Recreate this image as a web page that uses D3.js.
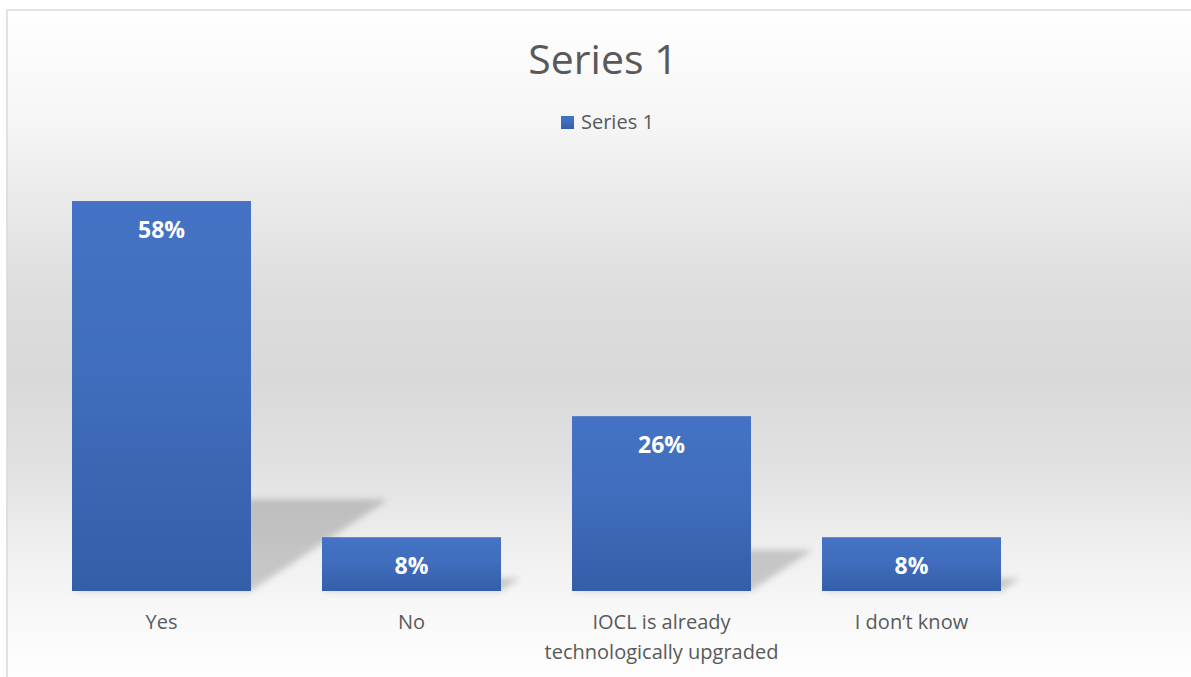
<!DOCTYPE html>
<html>
<head>
<meta charset="utf-8">
<script src="https://cdn.jsdelivr.net/npm/d3@7"></script>
<style>
  html, body { margin: 0; padding: 0; background: #ffffff; }
  svg { display: block; }
  text { font-family: "Open Sans", "Noto Sans", sans-serif; }
</style>
</head>
<body>
<svg id="chart" width="1191" height="677"></svg>
<script>
// Survey answers and their shares
const categories = ["Yes", "No", "IOCL is already technologically upgraded", "I don’t know"];
const seriesName = "Series 1";
const values = [0.58, 0.08, 0.26, 0.08];

const W = 1191, H = 677;
const svg = d3.select("#chart");
const defs = svg.append("defs");

// Chart area background: soft vertical grey band
const bg = defs.append("linearGradient")
  .attr("id", "bgGrad")
  .attr("gradientUnits", "userSpaceOnUse")
  .attr("x1", 0).attr("y1", 10).attr("x2", 0).attr("y2", 690);
[[0, "#ffffff"], [0.16, "#f6f6f6"], [0.28, "#eaeaea"], [0.42, "#dddddd"],
 [0.54, "#d9d9d9"], [0.67, "#e1e1e1"], [0.8, "#f0f0f0"], [0.9, "#f9f9f9"], [1, "#ffffff"]]
  .forEach(([o, c]) => bg.append("stop").attr("offset", o).attr("stop-color", c));

// Bar fill: lighter blue at the top, deeper at the base
const barGrad = defs.append("linearGradient")
  .attr("id", "barGrad").attr("x1", 0).attr("y1", 0).attr("x2", 0).attr("y2", 1);
[[0, "#4473c5"], [0.45, "#406dbd"], [1, "#345ea8"]]
  .forEach(([o, c]) => barGrad.append("stop").attr("offset", o).attr("stop-color", c));

// Soft blur for the perspective shadows
defs.append("filter").attr("id", "shadowBlur")
  .attr("x", "-20%").attr("y", "-40%").attr("width", "140%").attr("height", "180%")
  .append("feGaussianBlur").attr("stdDeviation", 3);

// Chart frame
svg.append("rect")
  .attr("x", 7).attr("y", 10).attr("width", 1200).attr("height", 700)
  .attr("fill", "url(#bgGrad)")
  .attr("stroke", "#d9d9d9").attr("stroke-width", 1.5);

// Scales
const x = d3.scaleBand()
  .domain(categories)
  .range([36.5, 1036.5])
  .paddingInner(0.284)
  .paddingOuter(0.142);

const y = d3.scaleLinear()
  .domain([0, 0.7])
  .range([591, 591 - 0.7 * (390 / 0.58)]);

const data = categories.map((c, i) => ({ cat: c, v: values[i] }));

// Perspective shadows cast up and to the right of each bar
const shadowG = svg.append("g").attr("filter", "url(#shadowBlur)");
shadowG.selectAll("path")
  .data(data)
  .join("path")
  .attr("d", d => {
    const x0 = x(d.cat), w = x.bandwidth(), base = y(0);
    const h = y(0) - y(d.v);
    const sh = h * 0.235, dx = sh * 1.5;
    return `M${x0},${base}L${x0 + w},${base}L${x0 + w + dx},${base - sh}L${x0 + dx},${base - sh}Z`;
  })
  .attr("fill", "#000")
  .attr("fill-opacity", 0.18);

// Bars
svg.append("g").selectAll("rect")
  .data(data)
  .join("rect")
  .attr("x", d => x(d.cat))
  .attr("y", d => y(d.v))
  .attr("width", x.bandwidth())
  .attr("height", d => y(0) - y(d.v))
  .attr("fill", "url(#barGrad)");

// Value labels inside the top of each bar
const fmt = d3.format(".0%");
svg.append("g").selectAll("text")
  .data(data)
  .join("text")
  .attr("x", d => x(d.cat) + x.bandwidth() / 2)
  .attr("y", d => y(d.v) + 37)
  .attr("text-anchor", "middle")
  .attr("fill", "#ffffff")
  .attr("font-weight", 700)
  .attr("font-size", 23)
  .text(d => fmt(d.v));

// Category axis (labels only, no line or ticks)
const xAxis = svg.append("g")
  .attr("transform", `translate(0,${y(0)})`)
  .call(d3.axisBottom(x).tickSize(0).tickPadding(0));
xAxis.select(".domain").remove();
xAxis.selectAll("text")
  .attr("font-family", "'Open Sans', 'Noto Sans', sans-serif")
  .attr("font-size", 20)
  .attr("fill", "#595959")
  .attr("dy", null)
  .attr("y", 38)
  .call(wrap, x.step() + 20);

function wrap(texts, width) {
  texts.each(function () {
    const t = d3.select(this);
    const words = t.text().split(/\s+/);
    const yy = t.attr("y");
    t.text(null);
    let line = [];
    let lineNo = 0;
    let tspan = t.append("tspan").attr("x", 0).attr("y", yy);
    for (const w of words) {
      line.push(w);
      tspan.text(line.join(" "));
      if (tspan.node().getComputedTextLength() > width && line.length > 1) {
        line.pop();
        tspan.text(line.join(" "));
        line = [w];
        lineNo++;
        tspan = t.append("tspan").attr("x", 0).attr("y", +yy + lineNo * 30).text(w);
      }
    }
  });
}

// Title
svg.append("text")
  .attr("x", 603).attr("y", 74)
  .attr("text-anchor", "middle")
  .attr("font-size", 41)
  .attr("fill", "#595959")
  .text(seriesName);

// Legend
const legend = svg.append("g").attr("transform", "translate(561,116)");
legend.append("rect")
  .attr("width", 13).attr("height", 13)
  .attr("fill", "url(#barGrad)");
legend.append("text")
  .attr("x", 20).attr("y", 13)
  .attr("font-size", 20)
  .attr("fill", "#595959")
  .text(seriesName);
</script>
</body>
</html>
